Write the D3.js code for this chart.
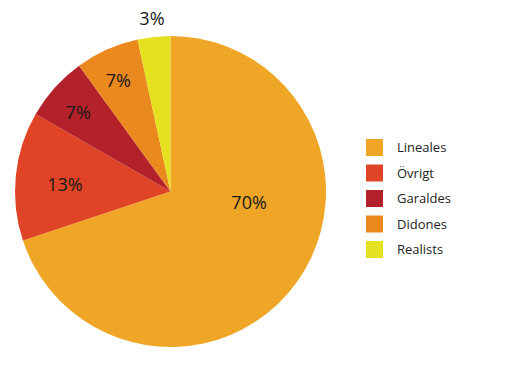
<!DOCTYPE html>
<html>
<head>
<meta charset="utf-8">
<script src="https://cdn.jsdelivr.net/npm/d3@7"></script>
<style>
  body { margin: 0; background: #fff; }
  #chart { width: 524px; height: 365px; }
</style>
</head>
<body>
<div id="chart"></div>
<script>
const categories = ['Lineales', 'Övrigt', 'Garaldes', 'Didones', 'Realists'];
const shares = [69.9, 13.4, 6.7, 6.6, 3.4];
const colors = ['#efa626', '#e04427', '#b3222a', '#ea891e', '#e5e020'];

const width = 524;
const height = 365;
const cx = 170.5, cy = 191.5, radius = 155.5;

const svg = d3.select('#chart')
    .append('svg')
    .attr('width', width)
    .attr('height', height);

const pie = d3.pie().sort(null).value(d => d.value);
const arcs = pie(categories.map((c, i) => ({ name: c, value: shares[i], color: colors[i] })));

const arc = d3.arc().innerRadius(0).outerRadius(radius);

const g = svg.append('g').attr('transform', `translate(${cx},${cy})`);

g.selectAll('path')
    .data(arcs)
    .enter()
    .append('path')
    .attr('d', arc)
    .attr('fill', d => d.data.color);

// label placement: radius factor and angle shift (degrees) per slice
const labelRadius = [0.51, 0.68, 0.78, 0.79, 1.12];
const labelShift = [-28, -2, -1.5, -1, 0];

g.selectAll('text.pct')
    .data(arcs)
    .enter()
    .append('text')
    .attr('class', 'pct')
    .attr('transform', (d, i) => {
        const a = (d.startAngle + d.endAngle) / 2 + labelShift[i] * Math.PI / 180;
        const r = radius * labelRadius[i];
        return `translate(${r * Math.sin(a)},${-r * Math.cos(a)})`;
    })
    .attr('text-anchor', 'middle')
    .attr('dy', '0.35em')
    .attr('font-family', 'Open Sans, sans-serif')
    .attr('font-size', '18px')
    .attr('fill', '#1a1a1a')
    .text(d => Math.round(d.data.value) + '%');

const legend = svg.append('g').attr('transform', 'translate(366,139)');

const items = legend.selectAll('g')
    .data(arcs)
    .enter()
    .append('g')
    .attr('transform', (d, i) => `translate(0,${i * 25.5})`);

items.append('rect')
    .attr('width', 17)
    .attr('height', 17)
    .attr('fill', d => d.data.color);

items.append('text')
    .attr('x', 31)
    .attr('y', 8.5)
    .attr('dy', '0.35em')
    .attr('font-family', 'Open Sans, sans-serif')
    .attr('font-size', '13px')
    .attr('fill', '#222')
    .text(d => d.data.name);
</script>
</body>
</html>
